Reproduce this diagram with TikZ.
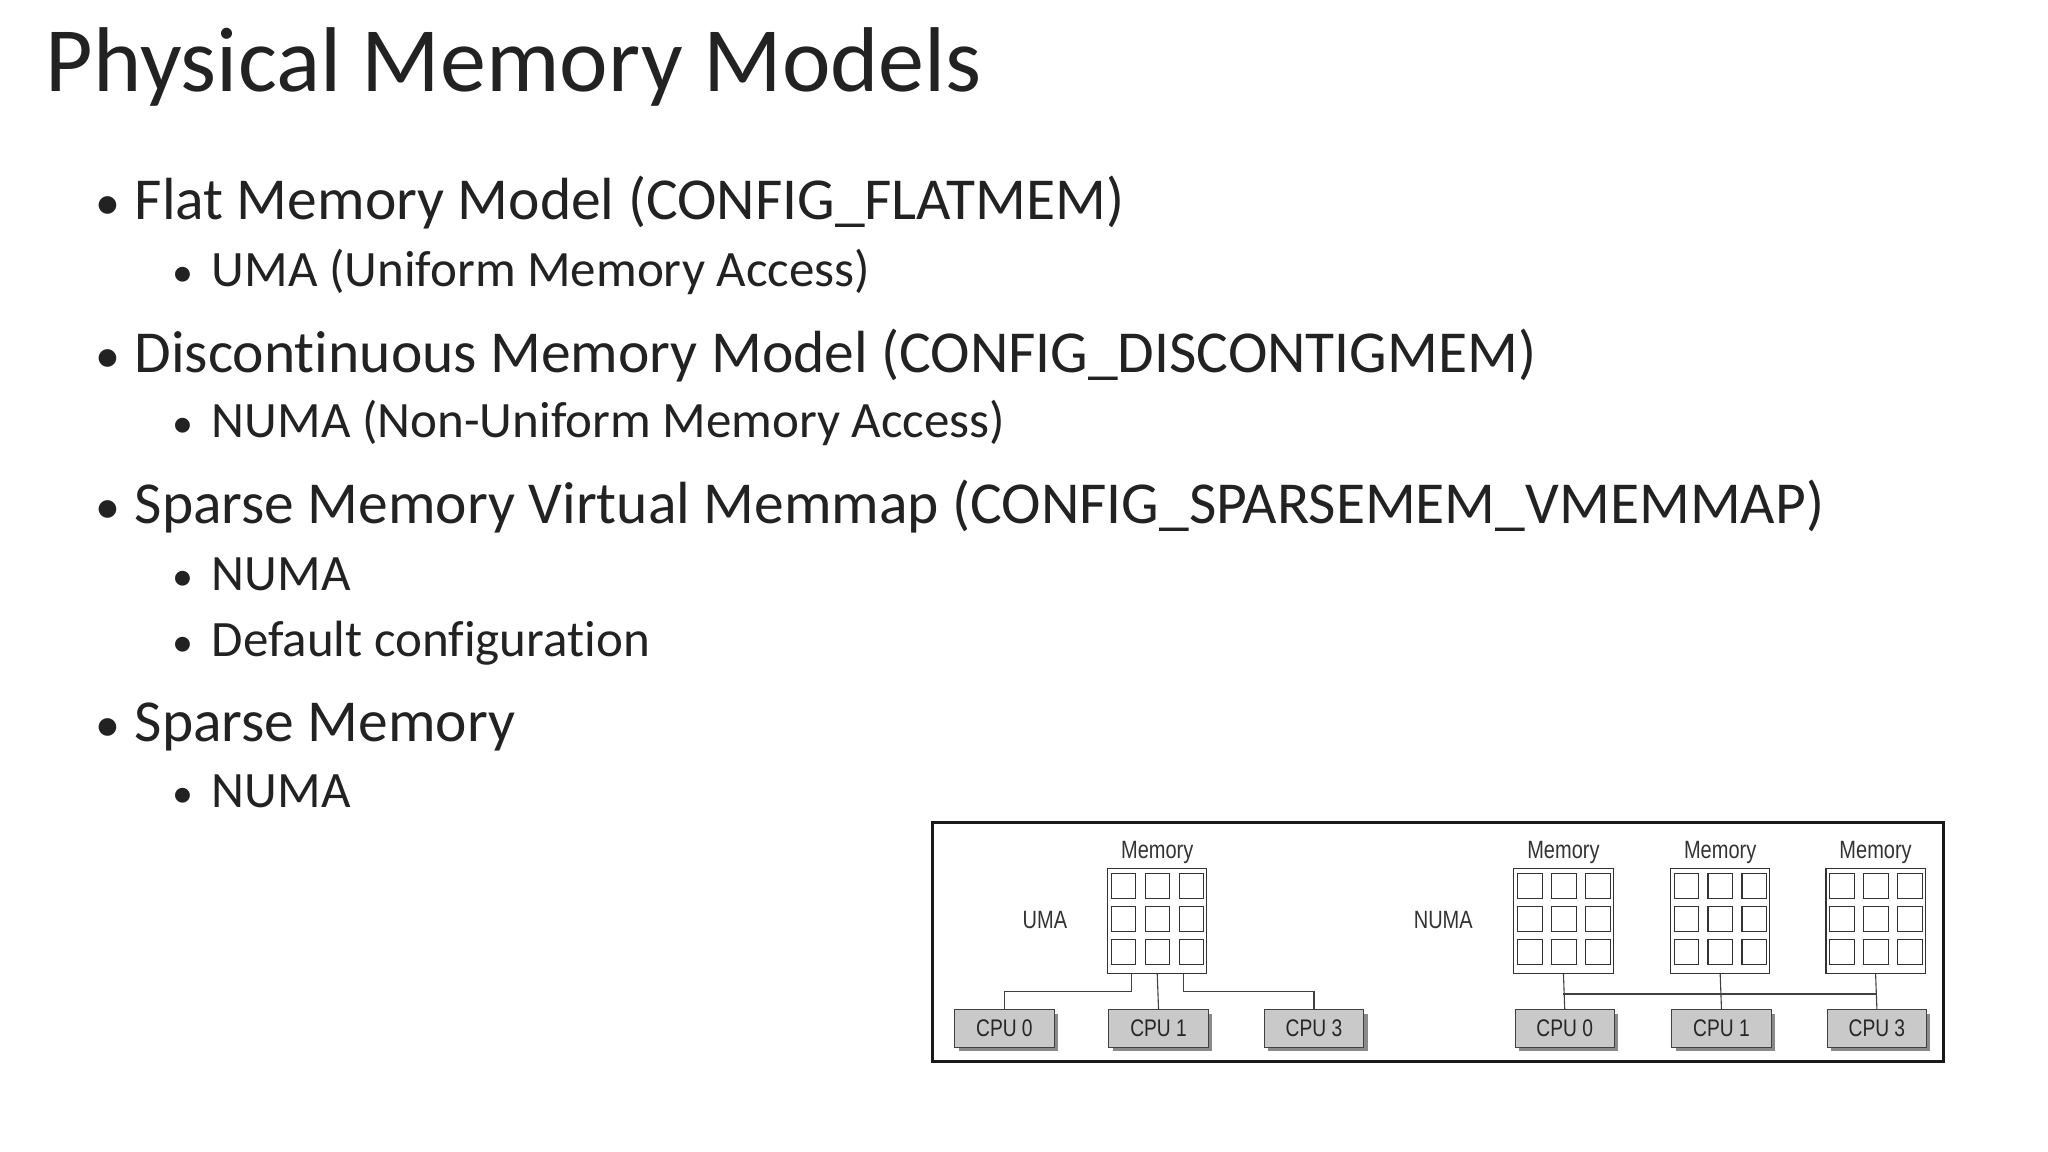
\documentclass[tikz,border=0pt]{standalone}
\usepackage{fontspec}
\setmainfont{Carlito}[Ligatures=NoCommon]
\newfontfamily\diag{Liberation Sans}
\definecolor{txt}{HTML}{222222}
\definecolor{cpu}{HTML}{C9C9C9}
\definecolor{shd}{HTML}{8A8A8A}
\begin{document}
\begin{tikzpicture}[x=1.306pt,y=-1.306pt,
  title/.style={anchor=base west,inner sep=0,text=txt,font=\fontsize{92}{100}\selectfont},
  l1/.style={anchor=base west,inner sep=0,text=txt,font=\fontsize{59.5}{66}\selectfont},
  l2/.style={anchor=base west,inner sep=0,text=txt,font=\fontsize{51}{58}\selectfont},
  b1/.style={anchor=base west,inner sep=0,text=txt,font=\fontsize{50}{58}\selectfont},
  b2/.style={anchor=base west,inner sep=0,text=txt,font=\fontsize{42}{50}\selectfont},
  dlab/.style={inner sep=0,text=black!80,font=\diag\fontsize{25}{27}\selectfont,xscale=0.8},
  cpubox/.style={draw=black!75,fill=cpu,line width=1.1pt,minimum width=76*1.306pt,minimum height=29*1.306pt,inner sep=0,
     font=\diag\fontsize{24}{26}\selectfont,text=black!85},
  wire/.style={draw=black!75,line width=1.1pt},
  cell/.style={draw=black!80,line width=1.1pt}]
\useasboundingbox (0,0) rectangle (1568,882);
\fill[white] (0,0) rectangle (1568,882);
\node[title] (t) at (35,70) {Physical Memory Models};
\foreach \y/\n in {168/p1,285/p2,401/p3,568/p4}{\node[b1] (\n) at (73,\y) {•};}
\foreach \y/\n in {219/q1,335/q2,452/q3,503/q4,618/q5}{\node[b2] (\n) at (132,\y) {•};}
\node[l1] (a) at (103,168) {Flat Memory Model (CONFIG\_FLATMEM)};
\node[l2] (a1) at (162,219) {UMA (Uniform Memory Access)};
\node[l1] (b) at (103,285) {Discontinuous Memory Model (CONFIG\_DISCONTIGMEM)};
\node[l2] (b1) at (162,335) {NUMA (Non-Uniform Memory Access)};
\node[l1] (c) at (103,401) {Sparse Memory Virtual Memmap (CONFIG\_SPARSEMEM\_VMEMMAP)};
\node[l2] (c1) at (162,452) {NUMA};
\node[l2] (c2) at (162,503) {Default configuration};
\node[l1] (d) at (103,568) {Sparse Memory};
\node[l2] (d1) at (162,618) {NUMA};
% frame
\draw[line width=2.8pt,black!90] (714,630) rectangle (1488,813);
\node[dlab] (uma) at (800,704) {UMA};
\node[dlab] (numa) at (1105,704) {NUMA};
% memory blocks
\foreach \n/\cx in {m0/886,m1/1197,m2/1317,m3/1436}{
  \node[draw=black!80,line width=1.1pt,fill=white,minimum width=76*1.306pt,minimum height=80*1.306pt,inner sep=0] (\n) at (\cx,705) {};
  \node[dlab] (\n l) at (\cx,653) {Memory};
  \foreach \i in {0,1,2}{\foreach \j in {0,1,2}{
    \draw[cell] (\cx-38+2.7+\i*26,665+3.9+\j*25.2) rectangle ++(19,19);
  }}
}
% cpu shadows
\foreach \cx in {769,887,1006,1198,1318,1437}{
  \fill[shd] (\cx-38+3,773+3) rectangle (\cx+38+3,802+3);
}
\node[cpubox] (u0) at (769,787.5) {\scalebox{0.8}[1]{CPU 0}};
\node[cpubox] (u1) at (887,787.5) {\scalebox{0.8}[1]{CPU 1}};
\node[cpubox] (u3) at (1006,787.5) {\scalebox{0.8}[1]{CPU 3}};
\node[cpubox] (n0) at (1198,787.5) {\scalebox{0.8}[1]{CPU 0}};
\node[cpubox] (n1) at (1318,787.5) {\scalebox{0.8}[1]{CPU 1}};
\node[cpubox] (n3) at (1437,787.5) {\scalebox{0.8}[1]{CPU 3}};
% UMA wires
\draw[wire] (m0.south) ++(-20,0) coordinate (ml) -- ++(0,14) -| (u0.north);
\draw[wire] (m0.south) -- (u1.north);
\draw[wire] (m0.south) ++(20,0) coordinate (mr) -- ++(0,14) -| (u3.north);
% NUMA wires
\draw[wire] (m1.south) -- (n0.north);
\draw[wire] (m2.south) -- (n1.north);
\draw[wire] (m3.south) -- (n3.north);
\draw[wire] (m1.south |- 0,761) -- (m3.south |- 0,761);
\end{tikzpicture}
\end{document}
